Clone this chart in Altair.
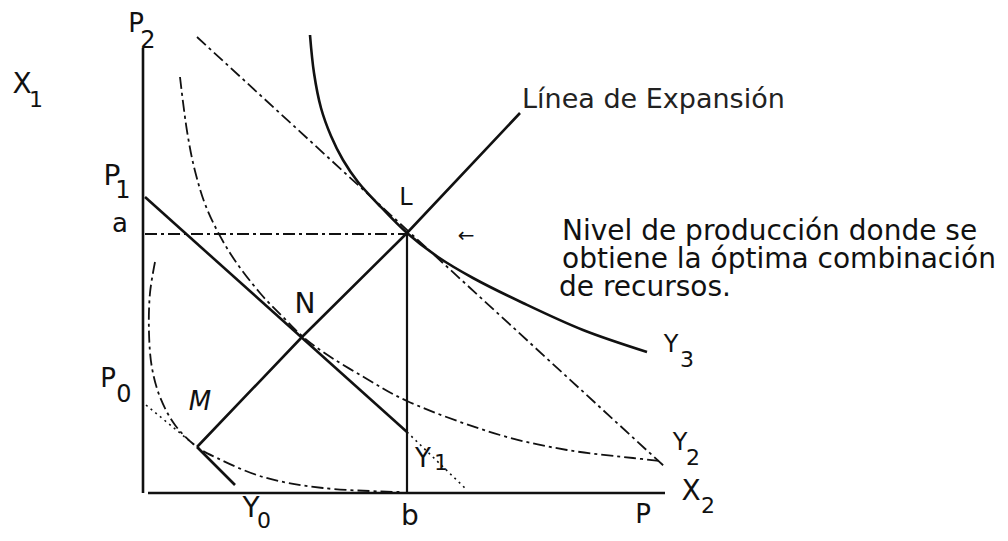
import altair as alt
import pandas as pd

# ---- diagram data (x2 = horizontal resource, x1 = vertical resource) ----
axis_v_x = [0, 0]
axis_v_y = [0, 445]
axis_h_x = [5, 522]
axis_h_y = [0, 0]

exp_x = [54, 159, 264, 377]          # Línea de Expansión  (M, N, L, end)
exp_y = [46, 156, 260, 380]

p2_x = [54, 522]                     # budget line P2-P (dash-dot)
p2_y = [456, 26]
p1_x = [2, 264]                      # budget line P1 (solid)
p1_y = [296, 61]
p1_ext_x = [264, 324]                # P1 continuation (dotted)
p1_ext_y = [61, 3]
p0_dot_x = [3, 54]                   # budget line P0 (dotted part)
p0_dot_y = [88, 46]
p0_x = [54, 92]                      # budget line P0 (solid part)
p0_y = [46, 8]

y0_x = [12, 7, 6, 9, 17, 32, 54, 74, 120, 180, 257]
y0_y = [231, 200, 160, 125, 96, 68, 46, 35, 16, 5, 1]

y12_x = [37, 44, 52, 64, 87, 117, 140, 159, 180, 224, 264, 357, 424, 490, 517]
y12_y = [416, 362, 322, 284, 240, 200, 176, 157, 141, 114, 92, 58, 43, 35, 32]

y3_x = [167, 171, 178, 188, 200, 215, 235, 264, 295, 330, 380, 440, 504]
y3_y = [458, 420, 385, 357, 333, 311, 289, 260, 236, 215, 190, 163, 141]

a_x = [2, 264]
a_y = [259, 259]
b_x = [264, 264]
b_y = [0, 260]

# labels: text, x (centre), y (baseline), font size
lab_text = ["X", "1", "P", "2", "P", "1", "a", "L", "N", "P", "0", "Y", "0",
            "b", "Y", "1", "Y", "2", "Y", "3", "X", "2", "P"]
lab_x = [-121, -107, -7, 5, -31, -20, -23, 263, 162, -35, -19, 108, 121,
         267, 280, 298, 537, 550, 528, 544, 548, 565, 500]
lab_y = [400, 386, 461, 445, 308, 295, 261, 288, 180, 106, 91, -24, -35,
         -32, 26, 23, 43, 28, 141, 126, -7, -20, -30]
lab_size = [28, 22, 26, 24, 28, 24, 26, 24, 28, 26, 24, 28, 22,
            28, 26, 22, 24, 22, 24, 22, 28, 22, 26]

m_text = ["M"]
m_x = [57]
m_y = [83]

arrow_text = ["←"]
arrow_x = [323]
arrow_y = [257]

exp_label = ["Línea de Expansión"]
exp_label_x = [379]
exp_label_y = [385]

para_text = ["Nivel de producción donde se",
             "obtiene la óptima combinación",
             "de recursos."]
para_x = [419, 419, 416]
para_y = [253, 225, 197]

# ---- helpers ----
def frame(groups):
    rows = []
    for name, xs, ys in groups:
        for i, (x, y) in enumerate(zip(xs, ys)):
            rows.append({"name": name, "i": i, "x": x, "y": y})
    return pd.DataFrame(rows)

X = alt.X("x:Q", scale=alt.Scale(domain=[-135, 857]), axis=None)
Y = alt.Y("y:Q", scale=alt.Scale(domain=[-40, 485]), axis=None)
INK = "#111111"
FONT = "DejaVu Sans"

def lines(groups, width, dash=None, interp="linear"):
    kw = dict(color=INK, strokeWidth=width, interpolate=interp, clip=False)
    if dash:
        kw["strokeDash"] = dash
    return alt.Chart(frame(groups)).mark_line(**kw).encode(
        x=X, y=Y, detail="name:N", order="i:Q")

solid_straight = lines([("axv", axis_v_x, axis_v_y), ("axh", axis_h_x, axis_h_y),
                        ("exp", exp_x, exp_y), ("p1", p1_x, p1_y),
                        ("p0", p0_x, p0_y)], 2.6)
b_line = lines([("b", b_x, b_y)], 2.2)
y3_curve = lines([("y3", y3_x, y3_y)], 2.6, interp="catmull-rom")
dashdot_straight = lines([("p2", p2_x, p2_y), ("a", a_x, a_y)], 1.8, dash=[12, 4, 3, 4])
dashdot_curves = lines([("y0", y0_x, y0_y), ("y12", y12_x, y12_y)], 1.8,
                       dash=[12, 4, 3, 4], interp="catmull-rom")
dotted = lines([("p1e", p1_ext_x, p1_ext_y), ("p0d", p0_dot_x, p0_dot_y)], 1.6, dash=[2, 4])

labels_df = pd.DataFrame({"t": lab_text, "x": lab_x, "y": lab_y, "s": lab_size})
labels = alt.Chart(labels_df).mark_text(
    font=FONT, color=INK, align="center", baseline="alphabetic").encode(
    x=X, y=Y, text="t:N", size=alt.Size("s:Q", scale=None))

m_label = alt.Chart(pd.DataFrame({"t": m_text, "x": m_x, "y": m_y})).mark_text(
    font=FONT, color=INK, fontSize=26, fontStyle="italic", align="center",
    baseline="alphabetic").encode(x=X, y=Y, text="t:N")

arrow = alt.Chart(pd.DataFrame({"t": arrow_text, "x": arrow_x, "y": arrow_y})).mark_text(
    font=FONT, color=INK, fontSize=20, align="center", baseline="middle").encode(
    x=X, y=Y, text="t:N")

exp_text = alt.Chart(pd.DataFrame({"t": exp_label, "x": exp_label_x, "y": exp_label_y})).mark_text(
    font=FONT, color="#222222", fontSize=27, align="left", baseline="alphabetic").encode(
    x=X, y=Y, text="t:N")

para = alt.Chart(pd.DataFrame({"t": para_text, "x": para_x, "y": para_y})).mark_text(
    font=FONT, color=INK, fontSize=28, align="left", baseline="alphabetic").encode(
    x=X, y=Y, text="t:N")

chart = alt.layer(
    solid_straight, b_line, y3_curve, dashdot_straight, dashdot_curves, dotted,
    labels, m_label, arrow, exp_text, para
).properties(
    width=992, height=525, padding=0, autosize="none", background="white"
).configure_view(stroke=None)

chart.save("out.html", embed_options={"renderer": "svg", "actions": False})
